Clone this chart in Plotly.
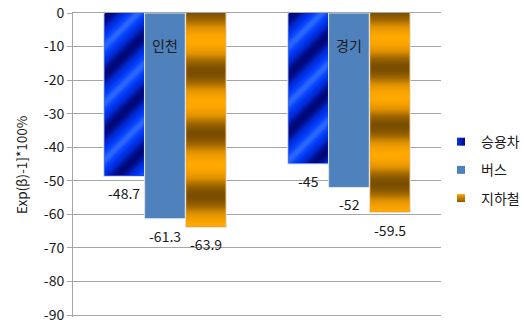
import numpy as np
import plotly.graph_objects as go

# ---- data -------------------------------------------------------------
regions = ["인천", "경기"]
series_names = ["승용차", "버스", "지하철"]
car = [-48.7, -45.0]
bus = [-61.3, -52.0]
subway = [-63.9, -59.5]
y_ticks = [0, -10, -20, -30, -40, -50, -60, -70, -80, -90]
y_title = "Exp(β)-1]*100%"

# ---- layout constants ------------------------------------------------
W, H = 524, 320
M = dict(l=73, r=83, t=13, b=3)
PX_PER_UNIT = 302 / 90
# a little slack below -90 so the bottom tick and grid line are kept
Y_RANGE = [-90 - 2 / PX_PER_UNIT, 0]
X_RANGE = [-0.5, 1.5]
BARGAP = 0.335

FONT = "Noto Sans CJK KR"
TEXT = "#1a1a1a"
GRID = "#a6a6a6"
EDGE = "#dce6f2"

series_values = [car, bus, subway]
series_colors = ["#0a35e6", "#4f81bd", "#f4a000"]

CAR_SCALE = [[0, "#000878"], [0.15, "#0015a0"], [0.35, "#0028d0"],
             [0.65, "#0034ee"], [0.9, "#0a48ff"], [1, "#2a66ff"]]
SUBWAY_SCALE = [[0, "#7a4e00"], [0.3, "#a86c00"], [0.6, "#dc8f00"], [1, "#ffa800"]]

px_x = (W - M["l"] - M["r"]) / (X_RANGE[1] - X_RANGE[0])
px_y = (H - M["t"] - M["b"]) / (Y_RANGE[1] - Y_RANGE[0])
bar_w = (1 - BARGAP) / len(series_names)


def bar_offset(i):
    return -(1 - BARGAP) / 2 + (i + 0.5) * bar_w


fig = go.Figure()

# plain bars
for i, (name, vals, col) in enumerate(zip(series_names, series_values, series_colors)):
    fig.add_trace(go.Bar(
        x=regions, y=vals, name=name, showlegend=False,
        marker=dict(color=col, line=dict(color=EDGE, width=1)),
        xaxis="x", yaxis="y",
    ))

# small square legend swatches
legend_markers = [
    dict(color="#0a35e6", gradient=dict(type="horizontal", color="#000878")),
    dict(color="#4f81bd"),
    dict(color="#ffa500", gradient=dict(type="vertical", color="#8a5800")),
]
for name, mk in zip(series_names, legend_markers):
    fig.add_trace(go.Scatter(
        x=[None], y=[None], mode="markers", name=name, legendgroup=name,
        marker=dict(symbol="square", size=8, line=dict(width=0), **mk),
        xaxis="x", yaxis="y",
    ))


def gradient_cells(g, i, v):
    """Cell edges of a bar's fill, inset by one pixel for the light border."""
    x0 = g + bar_offset(i) - bar_w / 2 + 1 / px_x
    x1 = g + bar_offset(i) + bar_w / 2 - 1 / px_x
    y0 = v + 1 / px_y
    ncols = max(2, int(round((x1 - x0) * px_x)))
    nrows = max(2, int(round((0 - y0) * px_y)))
    xe = np.linspace(x0, x1, ncols + 1)
    ye = np.linspace(y0, 0, nrows + 1)
    cx = (np.arange(ncols) + 0.5) * (x1 - x0) * px_x / ncols          # px from bar's left
    cy = (0 - (ye[:-1] + ye[1:]) / 2) * px_y                           # px from bar's top
    return xe, ye, cx, cy, (0 - v) * px_y


# diagonal blue sheen for 승용차
for g, v in enumerate(car):
    xe, ye, cx, cy, hpx = gradient_cells(g, 0, v)
    u = cx[None, :] + cy[:, None]
    z = 0.5 + 0.5 * np.cos(2 * np.pi * (u - 33) / 57)
    fig.add_trace(go.Heatmap(
        x=xe, y=ye, z=z, zmin=0, zmax=1, showscale=False, hoverinfo="skip",
        colorscale=CAR_SCALE, xaxis="x2", yaxis="y2",
    ))

# horizontal bronze bands for 지하철
for g, v in enumerate(subway):
    xe, ye, cx, cy, hpx = gradient_cells(g, 2, v)
    t = cy / hpx
    col = 0.5 + 0.5 * np.cos(2 * np.pi * (1 - t) / 0.29)
    z = np.repeat(col[:, None], len(cx), axis=1)
    fig.add_trace(go.Heatmap(
        x=xe, y=ye, z=z, zmin=0, zmax=1, showscale=False, hoverinfo="skip",
        colorscale=SUBWAY_SCALE, xaxis="x2", yaxis="y2",
    ))

# value labels under each bar end
annotations = []
for i, vals in enumerate(series_values):
    for g, v in enumerate(vals):
        annotations.append(dict(
            x=g + bar_offset(i), y=v, xref="x2", yref="y2", text=f"{v:g}",
            showarrow=False, yshift=-17, font=dict(size=14, color=TEXT),
        ))
# region names just under the top axis
for g, r in enumerate(regions):
    annotations.append(dict(
        x=g, y=0, xref="x2", yref="y2", text=r, showarrow=False,
        yshift=-32, font=dict(size=14, color=TEXT),
    ))

fig.update_layout(
    width=W, height=H, margin=dict(**M, pad=0, autoexpand=False),
    paper_bgcolor="white", plot_bgcolor="white",
    font=dict(family=FONT, size=14, color=TEXT),
    barmode="group", bargap=BARGAP, bargroupgap=0,
    showlegend=True,
    legend=dict(x=1.0, xanchor="left", y=0.628, yanchor="top",
                traceorder="grouped", tracegroupgap=7,
                font=dict(size=14, color=TEXT), bgcolor="rgba(0,0,0,0)"),
    xaxis=dict(type="category", range=X_RANGE, side="top", showline=True,
               linecolor=GRID, linewidth=1, showticklabels=False, ticks="",
               showgrid=False, zeroline=False, fixedrange=True),
    yaxis=dict(range=Y_RANGE, tickvals=y_ticks, ticktext=[str(t) for t in y_ticks],
               ticks="outside", ticklen=5, tickcolor=GRID, showline=True,
               linecolor=GRID, linewidth=1, gridcolor=GRID, gridwidth=1,
               zeroline=False, tickfont=dict(size=14, color=TEXT),
               ticklabeloverflow="allow",
               title=dict(text=y_title, font=dict(size=13.5, color=TEXT), standoff=13),
               automargin=False, fixedrange=True),
    xaxis2=dict(overlaying="x", anchor="y2", range=X_RANGE, visible=False, fixedrange=True),
    yaxis2=dict(overlaying="y", anchor="x2", range=Y_RANGE, visible=False, fixedrange=True),
    annotations=annotations,
)

fig.write_html("out.html")
